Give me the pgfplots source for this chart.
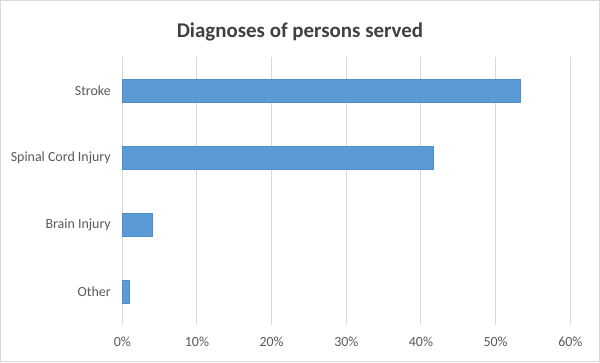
\documentclass[border=0pt]{standalone}
\usepackage{fontspec}
\setmainfont{Carlito}
\usepackage{pgfplots}
\pgfplotsset{compat=1.18}
\definecolor{barblue}{HTML}{5B9BD5}
\definecolor{baredge}{HTML}{4F8ECB}
\definecolor{gridgray}{HTML}{D9D9D9}
\definecolor{labgray}{HTML}{595959}
\definecolor{titlegray}{HTML}{404040}
\begin{document}
\begin{tikzpicture}[x=1bp,y=1bp]
\draw[gridgray, line width=1bp] (0.5,0.5) rectangle (599.5,361.5);
\node[anchor=base, font=\fontsize{21}{24}\selectfont\bfseries, text=titlegray] at (300,324.5) {Diagnoses of persons served};
\begin{axis}[
  at={(122.3bp,37bp)}, anchor=south west,
  scale only axis, width=448bp, height=268bp,
  xbar, bar width=23bp,
  xmin=0, xmax=60, ymin=-0.5, ymax=3.5,
  xtick={0,10,...,60},
  ytick={0,1,2,3},
  yticklabels={Other, Brain Injury, Spinal Cord Injury, Stroke},
  xticklabel={\pgfmathprintnumber{\tick}\%},
  /pgf/number format/assume math mode=true,
  xmajorgrids, grid style={gridgray, line width=1bp},
  axis line style={draw=none},
  major tick length=0pt,
  tick label style={font=\fontsize{14}{16}\selectfont, text=labgray},
  xticklabel style={yshift=-8bp},
  yticklabel style={xshift=-8bp},
  clip=false,
]
\addplot[fill=barblue, draw=baredge, line width=0.75bp] coordinates {
  (1.0,0) (4.0,1) (41.6,2) (53.3,3)
};
\end{axis}
\end{tikzpicture}
\end{document}
